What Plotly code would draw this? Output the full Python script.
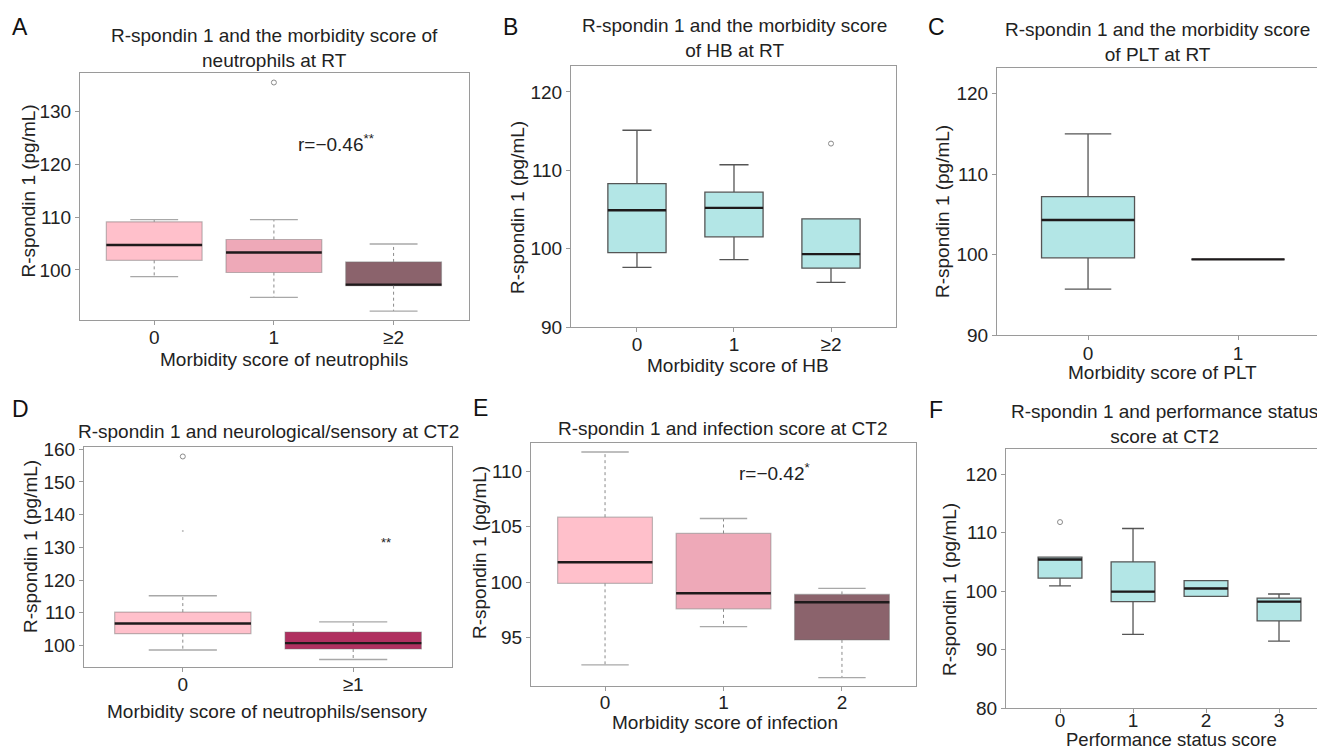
import plotly.graph_objects as go

# page is 1325x750; the html body keeps an 8px margin on the top/left
PAGE_W, PAGE_H = 1325, 750
OFF = 8
W, H = PAGE_W - OFF, PAGE_H - OFF

# ---------------- data ----------------
A_cats = ["0", "1", "≥2"]
A_q1 = [101.8, 99.5, 97.0]
A_med = [104.7, 103.3, 97.2]
A_q3 = [109.1, 105.75, 101.5]
A_lo = [98.7, 94.8, 92.2]
A_hi = [109.5, 109.5, 104.9]
A_out_x = [1]
A_out_y = [135.5]

B_cats = ["0", "1", "≥2"]
B_q1 = [99.5, 101.5, 97.5]
B_med = [104.9, 105.2, 99.3]
B_q3 = [108.3, 107.2, 103.8]
B_lo = [97.6, 98.6, 95.7]
B_hi = [115.1, 110.7, 103.8]
B_out_x = [2]
B_out_y = [113.4]

C_cats = ["0", "1"]
C_q1 = [99.6, 99.4]
C_med = [104.3, 99.4]
C_q3 = [107.2, 99.4]
C_lo = [95.7, 99.4]
C_hi = [115.0, 99.4]
C_out_x = []
C_out_y = []

D_cats = ["0", "≥1"]
D_q1 = [103.6, 98.9]
D_med = [106.7, 100.7]
D_q3 = [110.2, 104.1]
D_lo = [98.6, 95.7]
D_hi = [115.2, 107.2]
D_out_x = [0]
D_out_y = [157.8]
D_dot_x = [0]
D_dot_y = [135.0]

E_cats = ["0", "1", "2"]
E_q1 = [99.9, 97.6, 94.8]
E_med = [101.8, 99.0, 98.2]
E_q3 = [105.87, 104.4, 98.9]
E_lo = [92.55, 96.0, 91.4]
E_hi = [111.75, 105.75, 99.45]
E_out_x = []
E_out_y = []

F_cats = ["0", "1", "2", "3"]
F_q1 = [102.2, 98.2, 99.1, 94.9]
F_med = [105.4, 99.9, 100.45, 98.2]
F_q3 = [105.8, 105.0, 101.8, 98.8]
F_lo = [100.9, 92.6, 99.1, 91.45]
F_hi = [105.8, 110.7, 101.8, 99.5]
F_out_x = [0]
F_out_y = [111.8]

# ---------------- styles ----------------
FONT = "Liberation Sans, Arial, Helvetica, sans-serif"
TXT = "#222222"
FRAME = "#9a9a9a"
PINK = "#FFC0CB"
PINK2 = "#EEA9B8"
PINK4 = "#8B636C"
MAROON = "#B03060"
CYAN = "#B3E6E6"
FS = 19


def px(x):
    return min(1.0, max(0.0, (x - OFF) / W))


def py(y):
    return min(1.0, max(0.0, 1 - (y - OFF) / H))


panels = [
    dict(cats=A_cats, q1=A_q1, med=A_med, q3=A_q3, lo=A_lo, hi=A_hi,
         ox=A_out_x, oy=A_out_y, fills=[PINK, PINK2, PINK4], dashed=True,
         bw=0.8, dom=(80, 469, 73, 320), xr=[-0.62, 2.63], yr=[90.5, 137.3],
         yt=[100, 110, 120, 130], so=-4),
    dict(cats=B_cats, q1=B_q1, med=B_med, q3=B_q3, lo=B_lo, hi=B_hi,
         ox=B_out_x, oy=B_out_y, fills=[CYAN] * 3, dashed=False,
         bw=0.6, dom=(571, 896, 66, 327), xr=[-0.68, 2.67], yr=[90, 123.3],
         yt=[90, 100, 110, 120], so=-4),
    dict(cats=C_cats, q1=C_q1, med=C_med, q3=C_q3, lo=C_lo, hi=C_hi,
         ox=C_out_x, oy=C_out_y, fills=[CYAN] * 2, dashed=False,
         bw=0.62, dom=(997, 1325, 68, 335), xr=[-0.607, 1.58], yr=[90, 123.2],
         yt=[90, 100, 110, 120], so=-3),
    dict(cats=D_cats, q1=D_q1, med=D_med, q3=D_q3, lo=D_lo, hi=D_hi,
         ox=D_out_x, oy=D_out_y, fills=[PINK, MAROON], dashed=True,
         bw=0.8, dom=(84, 452, 447, 667), xr=[-0.58, 1.58], yr=[93.4, 160.7],
         yt=[100, 110, 120, 130, 140, 150, 160], so=-4),
    dict(cats=E_cats, q1=E_q1, med=E_med, q3=E_q3, lo=E_lo, hi=E_hi,
         ox=E_out_x, oy=E_out_y, fills=[PINK, PINK2, PINK4], dashed=True,
         bw=0.8, dom=(531, 916, 443, 686), xr=[-0.625, 2.625], yr=[90.64, 112.56],
         yt=[95, 100, 105, 110], so=-5),
    dict(cats=F_cats, q1=F_q1, med=F_med, q3=F_q3, lo=F_lo, hi=F_hi,
         ox=F_out_x, oy=F_out_y, fills=[CYAN] * 4, dashed=False,
         bw=0.6, dom=(1006, 1325, 449, 708), xr=[-0.74, 3.63], yr=[80, 124.3],
         yt=[80, 90, 100, 110, 120], so=-9),
]

fig = go.Figure()
layout = {}

for k, p in enumerate(panels, start=1):
    sfx = "" if k == 1 else str(k)
    xa, ya = "x" + sfx, "y" + sfx
    x0, x1, y0, y1 = p["dom"]
    n = len(p["cats"])
    bw = p["bw"]
    for i in range(n):
        if p["dashed"]:
            lf, uf, ww = p["q1"][i], p["q3"][i], 0
            lc, lw = "rgba(110,110,110,0.45)", 1.2
        else:
            lf, uf, ww = p["lo"][i], p["hi"][i], 0.5
            lc, lw = "#555555", 1.3
        fig.add_trace(go.Box(
            x=[i], q1=[p["q1"][i]], median=[p["med"][i]], q3=[p["q3"][i]],
            lowerfence=[lf], upperfence=[uf], width=bw, whiskerwidth=ww,
            fillcolor=p["fills"][i], line=dict(color=lc, width=lw),
            boxpoints=False, xaxis=xa, yaxis=ya, showlegend=False,
            hoverinfo="skip"))
    # median lines
    mx, my = [], []
    for i in range(n):
        mx += [i - bw / 2, i + bw / 2, None]
        my += [p["med"][i], p["med"][i], None]
    fig.add_trace(go.Scatter(x=mx, y=my, mode="lines",
                             line=dict(color="#1e1a1b", width=2.4),
                             xaxis=xa, yaxis=ya, showlegend=False, hoverinfo="skip"))
    if p["dashed"]:
        wx, wy, cx, cy = [], [], [], []
        for i in range(n):
            wx += [i, i, None, i, i, None]
            wy += [p["q3"][i], p["hi"][i], None, p["q1"][i], p["lo"][i], None]
            cx += [i - bw / 4, i + bw / 4, None, i - bw / 4, i + bw / 4, None]
            cy += [p["hi"][i], p["hi"][i], None, p["lo"][i], p["lo"][i], None]
        fig.add_trace(go.Scatter(x=wx, y=wy, mode="lines",
                                 line=dict(color="#8a8a8a", width=1, dash="dot"),
                                 xaxis=xa, yaxis=ya, showlegend=False, hoverinfo="skip"))
        fig.add_trace(go.Scatter(x=cx, y=cy, mode="lines",
                                 line=dict(color="#a8a8a8", width=1.3),
                                 xaxis=xa, yaxis=ya, showlegend=False, hoverinfo="skip"))
    if p["ox"]:
        fig.add_trace(go.Scatter(x=p["ox"], y=p["oy"], mode="markers",
                                 marker=dict(symbol="circle-open", size=5,
                                             color="#8a8a8a", line=dict(width=1)),
                                 xaxis=xa, yaxis=ya, showlegend=False, hoverinfo="skip"))
    axis_common = dict(showline=True, mirror=True, linecolor=FRAME, linewidth=1,
                       ticks="outside", tickcolor=FRAME, ticklen=4, showgrid=False,
                       zeroline=False, automargin=False,
                       tickfont=dict(family=FONT, size=FS, color=TXT))
    layout["xaxis" + sfx] = dict(domain=[px(x0), px(x1)], range=p["xr"], anchor=ya,
                                 tickmode="array", tickvals=list(range(n)),
                                 ticktext=p["cats"], ticklabelstandoff=p["so"],
                                 **axis_common)
    layout["yaxis" + sfx] = dict(domain=[py(y1), py(y0)], range=p["yr"], anchor=xa,
                                 tickmode="array", tickvals=p["yt"], **axis_common)

# tiny faint point in panel D
fig.add_trace(go.Scatter(x=D_dot_x, y=D_dot_y, mode="markers",
                         marker=dict(size=2, color="#bbbbbb"),
                         xaxis="x4", yaxis="y4", showlegend=False, hoverinfo="skip"))

ann = []


def add_text(x, y, text, size=FS, angle=0, color=TXT):
    ann.append(dict(x=px(x), y=py(y), xref="paper", yref="paper", text=text,
                    showarrow=False, textangle=angle, xanchor="center",
                    yanchor="middle", font=dict(family=FONT, size=size, color=color)))


# panel letters
for (lx, ly, t) in [(20, 27, "A"), (510, 27, "B"), (936, 27, "C"),
                    (20, 409, "D"), (480, 408, "E"), (936, 410, "F")]:
    add_text(lx, ly, t, size=23, color="#111111")

# titles
add_text(274.5, 48.3, "R-spondin 1 and the morbidity score of<br>neutrophils at RT")
add_text(734, 38.3, "R-spondin 1 and the morbidity score<br>of HB at RT")
add_text(1157, 42.2, "R-spondin 1 and the morbidity score<br>of PLT at RT")
add_text(268, 431.7, "R-spondin 1 and neurological/sensory at CT2")
add_text(722.5, 428.3, "R-spondin 1 and infection score at CT2")
add_text(1164, 423.8, "R-spondin 1 and performance status<br>score at CT2")

# x titles
add_text(284, 359, "Morbidity score of neutrophils")
add_text(738, 365, "Morbidity score of HB")
add_text(1162, 372, "Morbidity score of PLT")
add_text(267, 711, "Morbidity score of neutrophils/sensory")
add_text(725, 722, "Morbidity score of infection")
add_text(1171, 739, "Performance status score", size=18.5)

# y titles
for (tx, ty) in [(27.5, 191), (517, 208), (942, 212), (30, 547), (479, 552), (949, 590)]:
    add_text(tx, ty, "R-spondin 1 (pg/mL)", angle=-90)

# stats annotations
add_text(336, 143.3, "r=−0.46<sup>**</sup>")
add_text(774, 471.7, "r=−0.42<sup>*</sup>")
add_text(386, 542, "**", size=13)

fig.update_layout(width=W, height=H, autosize=False,
                  margin=dict(l=0, r=0, t=0, b=0, autoexpand=False),
                  paper_bgcolor="white", plot_bgcolor="white",
                  annotations=ann, boxmode="overlay", **layout)

fig.write_html("out.html")
